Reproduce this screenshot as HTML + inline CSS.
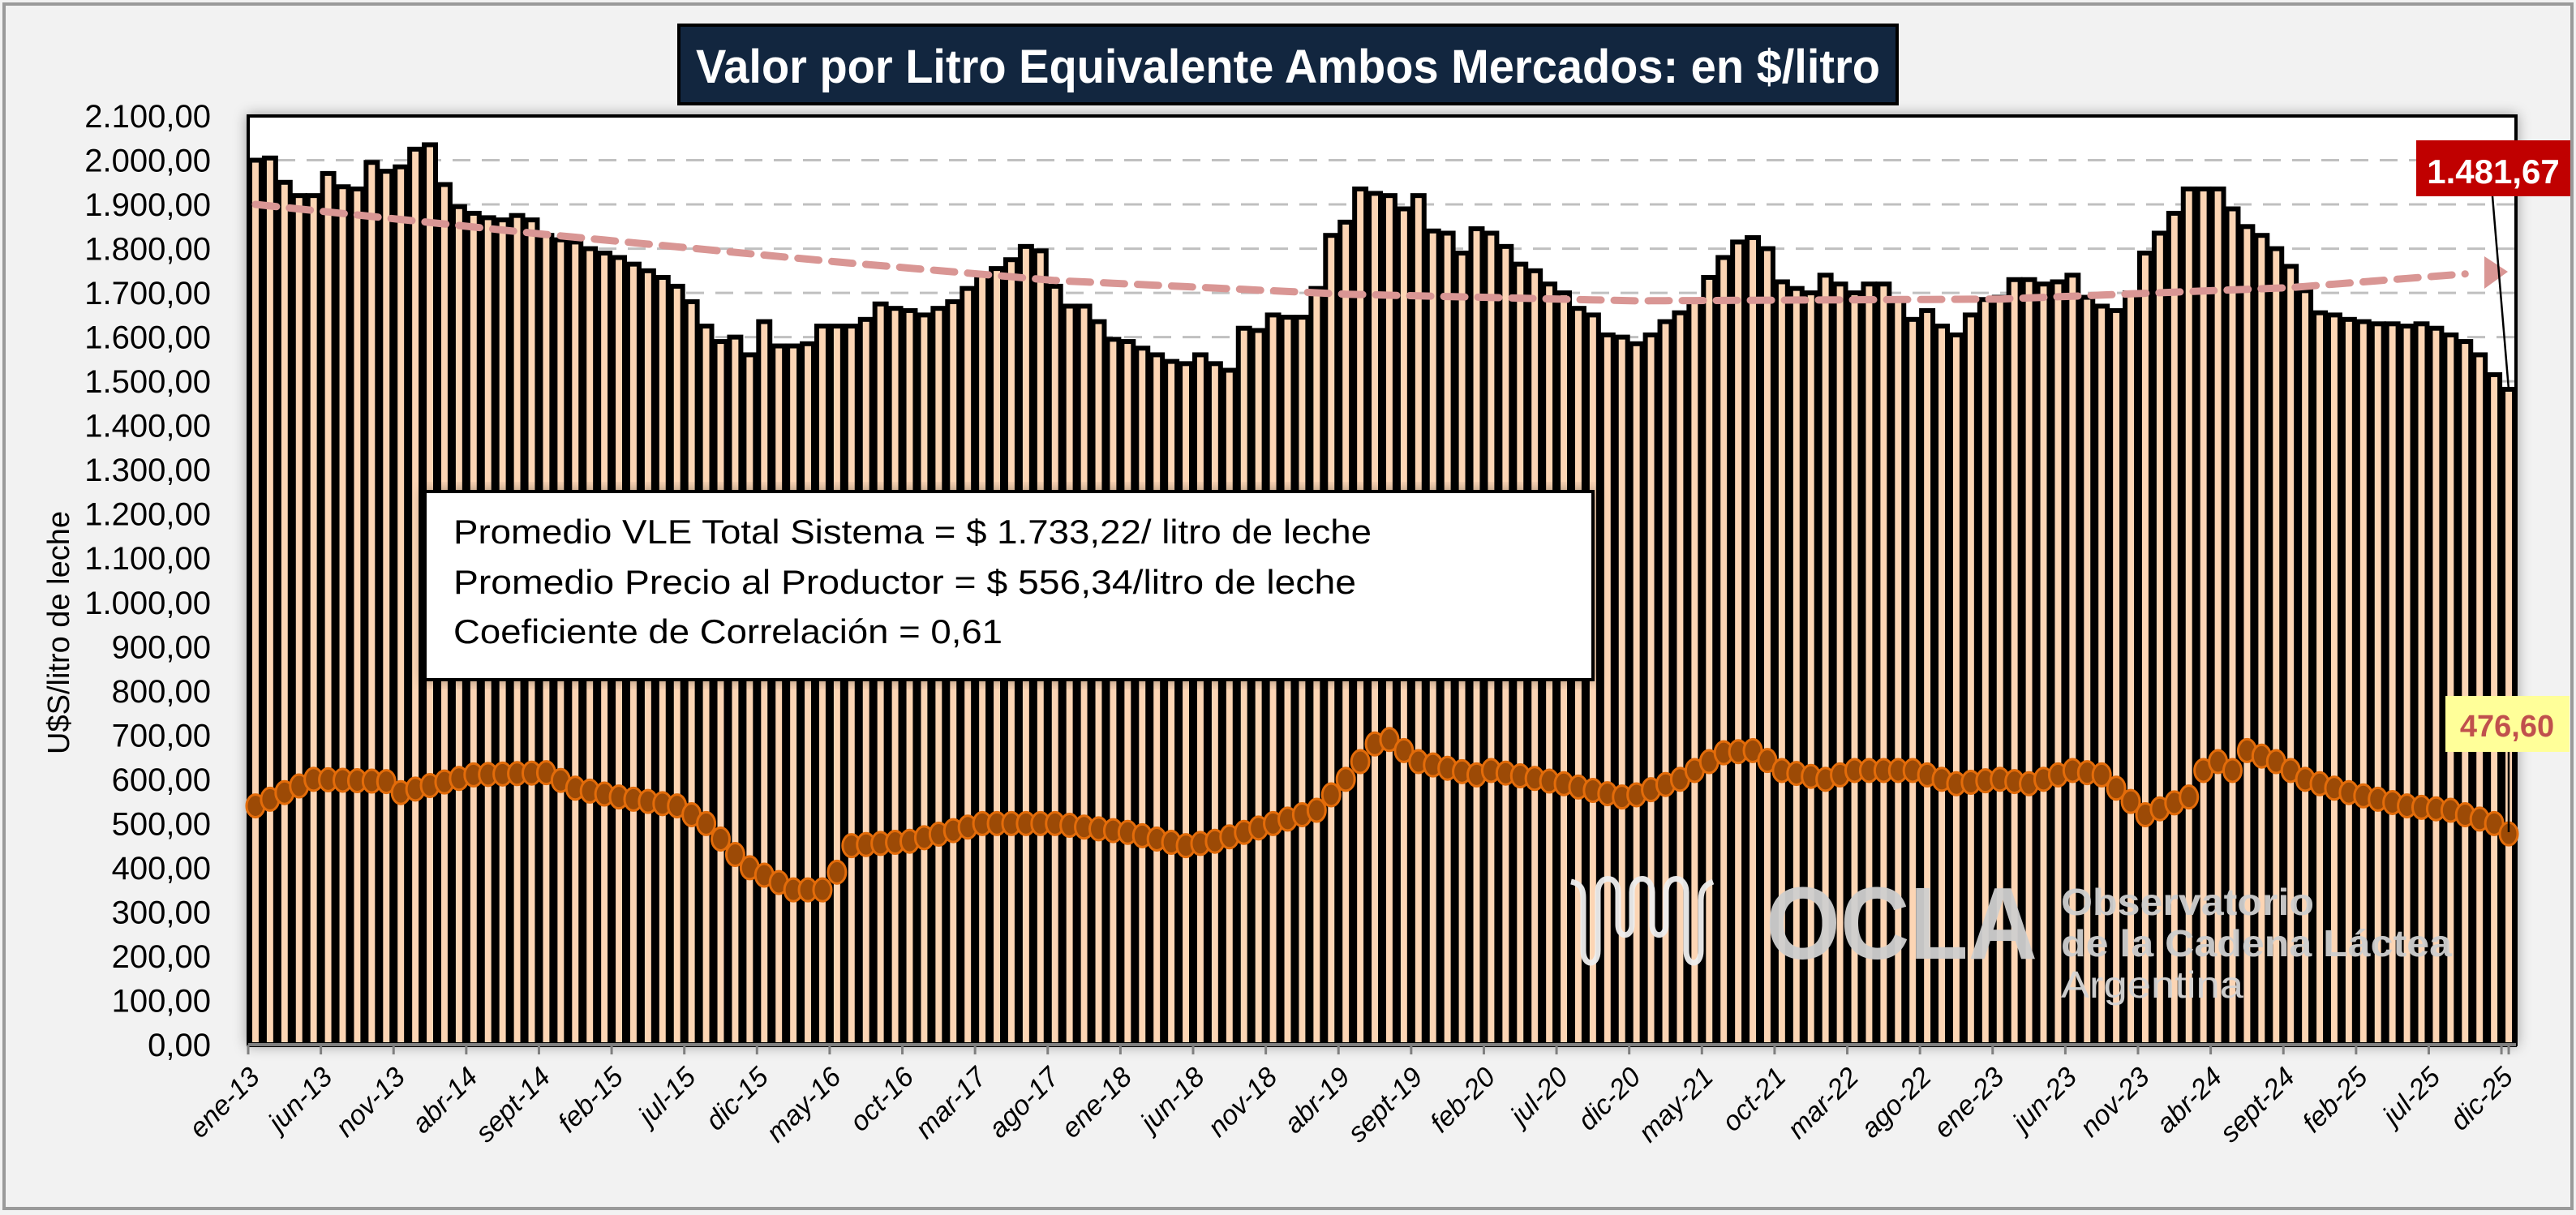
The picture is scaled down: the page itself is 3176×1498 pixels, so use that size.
<!DOCTYPE html>
<html><head><meta charset="utf-8"><style>
html,body{margin:0;padding:0;background:#f2f2f2;}
svg{display:block;font-family:"Liberation Sans",sans-serif;}
</style></head><body>
<svg id="s" width="3176" height="1498" xmlns="http://www.w3.org/2000/svg">
<defs>
<filter id="sh" x="-5%" y="-5%" width="110%" height="110%"><feDropShadow dx="0" dy="0" stdDeviation="8" flood-color="#000" flood-opacity="0.35"/></filter>
</defs>
<rect x="5" y="5" width="3166" height="1485" fill="#f2f2f2" stroke="#9a9a9a" stroke-width="4"/>
<rect x="306" y="143" width="2796" height="1145" fill="#fff" stroke="#000" stroke-width="4" filter="url(#sh)"/>
<g id="grid"></g>
<g id="bars"></g>
<g id="trend"></g>
<g id="line"></g>
<line x1="306" y1="1288" x2="3102" y2="1288" stroke="#7f7f7f" stroke-width="4"/>
<g id="ticks"></g>
<g id="ylab" font-size="40" text-anchor="end" fill="#000"></g>
<g id="xlab" font-size="34" font-style="italic" text-anchor="end" fill="#000"></g>
<text transform="translate(85,780) rotate(-90)" font-size="38" text-anchor="middle">U$S/litro de leche</text>
<rect x="837" y="31" width="1502" height="97" fill="#12263f" stroke="#000" stroke-width="4"/>
<text x="1588" y="102" font-size="58" font-weight="bold" fill="#fff" text-anchor="middle" textLength="1460" lengthAdjust="spacingAndGlyphs">Valor por Litro Equivalente Ambos Mercados: en $/litro</text>
<rect x="524" y="606" width="1440" height="232" fill="#fff" stroke="#000" stroke-width="4" filter="url(#sh)"/>
<g font-size="42" fill="#000">
<text x="559" y="670" textLength="1132" lengthAdjust="spacingAndGlyphs">Promedio VLE Total Sistema = $ 1.733,22/ litro de leche</text>
<text x="559" y="732" textLength="1113" lengthAdjust="spacingAndGlyphs">Promedio Precio al Productor = $ 556,34/litro de leche</text>
<text x="559" y="793" textLength="677" lengthAdjust="spacingAndGlyphs">Coeficiente de Correlación = 0,61</text>
</g>
<g opacity="0.95">
<path d="M1937,1087 C1952,1090 1952,1100 1952,1110 L1952,1172 C1952,1192 1970,1192 1970,1172 L1970,1100 C1970,1078 1995,1078 1995,1100 L1995,1140 C1995,1157 2012,1157 2012,1140 L2012,1100 C2012,1078 2037,1078 2037,1100 L2037,1140 C2037,1157 2054,1157 2054,1140 L2054,1100 C2054,1078 2079,1078 2079,1100 L2079,1172 C2079,1192 2097,1192 2097,1172 L2097,1110 C2097,1095 2104,1090 2112,1087" fill="none" stroke="#eeeeee" stroke-width="7"/>
<text x="2177" y="1182" font-size="126" font-weight="bold" fill="#cfcfcf" textLength="335" lengthAdjust="spacingAndGlyphs">OCLA</text>
<text x="2541" y="1128" font-size="46" font-weight="bold" fill="#cfcfcf" textLength="312" lengthAdjust="spacingAndGlyphs">Observatorio</text>
<text x="2541" y="1179" font-size="46" font-weight="bold" fill="#cfcfcf" textLength="482" lengthAdjust="spacingAndGlyphs">de la Cadena Láctea</text>
<text x="2541" y="1230" font-size="46" fill="#d6d6d6" textLength="225" lengthAdjust="spacingAndGlyphs">Argentina</text>
</g>
<line x1="3073" y1="242" x2="3093" y2="480" stroke="#000" stroke-width="2.5"/>
<rect x="2979" y="173" width="190" height="69" fill="#c00000"/>
<text x="3074" y="226" font-size="42" font-weight="bold" fill="#fff" text-anchor="middle">1.481,67</text>
<line x1="3093" y1="927" x2="3093" y2="1026" stroke="#000" stroke-width="2.5"/>
<rect x="3015" y="858" width="153" height="69" fill="#ffff99"/>
<text x="3091" y="908" font-size="38" font-weight="bold" fill="#c0504d" text-anchor="middle">476,60</text>
</svg>
<script>
const NS="http://www.w3.org/2000/svg";
function el(p,t,a){const e=document.createElementNS(NS,t);for(const k in a)e.setAttribute(k,a[k]);p.appendChild(e);return e;}
const X0=306,W=2796,N=156,w=W/N,Y0=1288,H=1145,VM=2100;
const y=v=>Y0-v/VM*H;
const vals=[2000,2005,1950,1920,1920,1970,1940,1935,1995,1975,
1985,2025,2035,1945,1895,1880,1870,1865,1875,1865,
1830,1820,1815,1800,1790,1780,1765,1750,1735,1715,
1680,1625,1590,1600,1560,1635,1580,1580,1585,1625,
1625,1625,1640,1675,1665,1660,1650,1665,1680,1710,
1740,1755,1775,1805,1795,1715,1670,1670,1635,1595,
1590,1575,1560,1545,1540,1560,1540,1525,1620,1615,
1650,1645,1645,1710,1830,1860,1935,1925,1920,1890,
1920,1840,1835,1790,1845,1835,1805,1765,1750,1720,
1700,1665,1650,1605,1600,1585,1605,1635,1655,1680,
1735,1780,1815,1825,1800,1725,1710,1700,1740,1720,
1700,1720,1720,1685,1640,1660,1625,1605,1650,1685,
1690,1730,1730,1720,1725,1740,1690,1670,1660,1700,
1790,1835,1880,1935,1935,1935,1890,1850,1830,1800,
1760,1705,1655,1650,1640,1635,1630,1630,1625,1630,
1620,1605,1590,1560,1515,1482];
const g=document.getElementById('grid');
for(let v=100;v<=2000;v+=100)el(g,'line',{x1:X0,x2:X0+W,y1:y(v),y2:y(v),stroke:'#c0c0c0','stroke-width':3,'stroke-dasharray':'22 14'});
const b=document.getElementById('bars');
vals.forEach((v,i)=>{el(b,'rect',{x:X0+i*w+2,y:y(v),width:w-4,height:Y0-y(v),fill:'#fcd5b4',stroke:'#000','stroke-width':6});});
function interp(pts,i){for(let k=0;k<pts.length-1;k++){const[a,av]=pts[k],[c,cv]=pts[k+1];if(i>=a&&i<=c){const t=(i-a)/(c-a);return av+(cv-av)*t;}}return pts[pts.length-1][1];}
// trend: quadratic-ish
const tp=[[0,1900],[20,1832],[40,1770],[55,1728],[75,1697],[95,1682],[120,1686],[140,1712],[154,1748]];
let d='';for(let i=0;i<=152;i+=1){d+=(i?'L':'M')+(X0+i*w+w/2).toFixed(1)+','+y(interp(tp,i)).toFixed(1);}
const tg=document.getElementById('trend');
el(tg,'path',{d:d,fill:'none',stroke:'#d99694','stroke-width':9,'stroke-dasharray':'26 16','stroke-linecap':'round'});
el(tg,'polygon',{points:`3092,335 3063,316 3063,356`,fill:'#d99694'});
const pp=[[0,540],[4,600],[9,595],[10,570],[15,610],[20,615],[22,580],[25,560],[29,540],[31,500],[33,430],[34,400],[37,350],[39,350],[40,390],[41,450],[45,460],[50,500],[55,500],[60,480],[64,450],[66,460],[70,500],[73,530],[75,600],[77,680],[78,690],[80,640],[84,610],[85,620],[90,590],[94,560],[95,565],[98,600],[101,660],[103,665],[105,620],[108,600],[110,620],[114,620],[117,590],[120,600],[122,590],[125,620],[127,610],[129,550],[130,520],[133,560],[134,620],[135,640],[136,620],[137,665],[139,640],[141,600],[144,570],[148,540],[151,530],[154,500],[155,476.6]];
const lg=document.getElementById('line');
for(let i=0;i<N;i++){const v=interp(pp,i);el(lg,'ellipse',{cx:X0+i*w+w/2,cy:y(v),rx:11,ry:14,fill:'#9c4a06',stroke:'#e36c0a','stroke-width':3});}
const tk=document.getElementById('ticks'),xl=document.getElementById('xlab'),yl=document.getElementById('ylab');
const mon=['ene','feb','mar','abr','may','jun','jul','ago','sept','oct','nov','dic'];
for(let i=0;i<N;i+=5){const x=X0+i*w;el(tk,'line',{x1:x,x2:x,y1:Y0,y2:Y0+12,stroke:'#7f7f7f','stroke-width':3});
const yr=13+Math.floor(i/12);const t=el(xl,'text',{transform:`translate(${x+16},${1330}) rotate(-45)`});t.textContent=mon[i%12]+'-'+yr;}
el(tk,'line',{x1:X0+155*w+w/2,x2:X0+155*w+w/2,y1:Y0,y2:Y0+12,stroke:'#7f7f7f','stroke-width':3});
for(let v=0;v<=2100;v+=100){const t=el(yl,'text',{x:260,y:y(v)+14});const s=(v>=1000?Math.floor(v/1000)+'.'+String(v%1000).padStart(3,'0'):String(v))+',00';t.textContent=s;}
</script>
</body></html>
